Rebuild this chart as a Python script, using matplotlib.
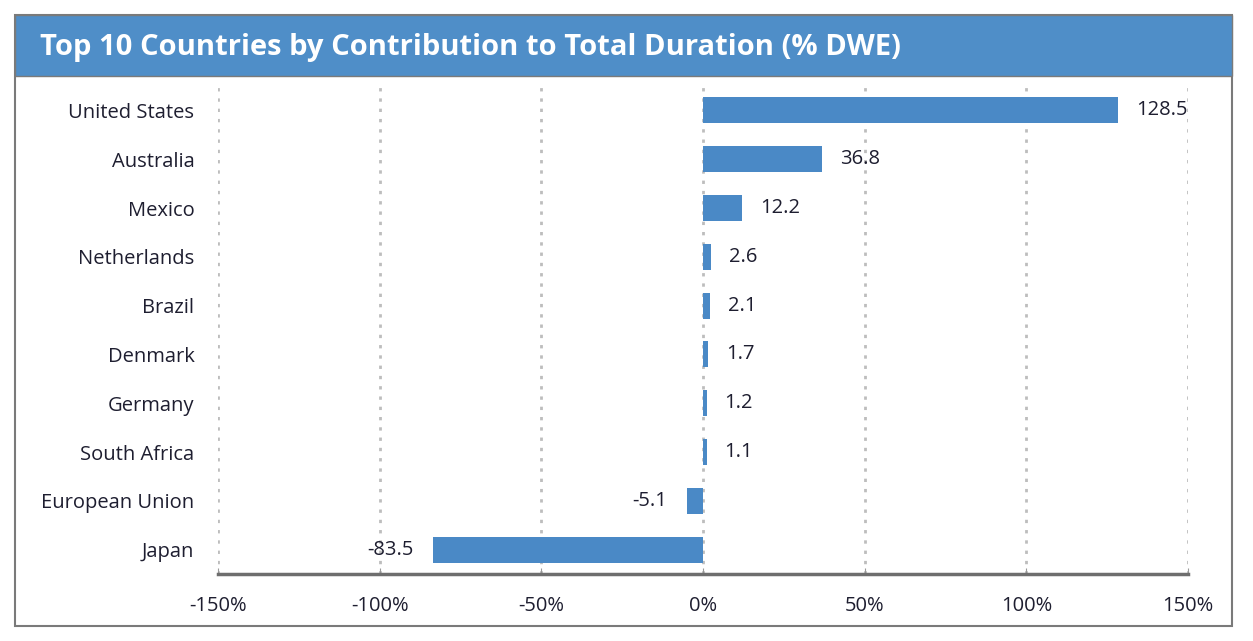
import matplotlib.pyplot as plt
from matplotlib.patches import Rectangle

# Data
countries = ['United States', 'Australia', 'Mexico', 'Netherlands', 'Brazil',
             'Denmark', 'Germany', 'South Africa', 'European Union', 'Japan']
values = [128.5, 36.8, 12.2, 2.6, 2.1, 1.7, 1.2, 1.1, -5.1, -83.5]
x_ticks = [-150, -100, -50, 0, 50, 100, 150]

bar_color = '#4a89c6'
header_color = '#4f8ec8'
text_color = '#1e1e30'

plt.rcParams['font.family'] = ['Open Sans', 'DejaVu Sans']

fig = plt.figure(figsize=(12.53, 6.41), dpi=100)

# Outer frame and title bar
fig.patches.append(Rectangle((15 / 1253, 1 - 626 / 641), 1217 / 1253, 611 / 641,
                             transform=fig.transFigure, fill=False,
                             edgecolor='#7a7a7a', linewidth=1.5))
fig.patches.append(Rectangle((15 / 1253, 1 - 76 / 641), 1217 / 1253, 61 / 641,
                             transform=fig.transFigure, facecolor=header_color,
                             edgecolor='#7a7a7a', linewidth=1.0))
fig.text(40 / 1253, 1 - 47 / 641, 'Top 10 Countries by Contribution to Total Duration (% DWE)',
         color='white', fontsize=21, fontweight='bold', va='center', ha='left')

ax = fig.add_axes([218 / 1253, 1 - 574 / 641, 970 / 1253, 488 / 641])

y = list(range(len(countries)))
ax.barh(y, values, height=0.53, color=bar_color, zorder=3)

for yi, v in zip(y, values):
    if v >= 0:
        ax.text(v + 5.5, yi, f'{v:.1f}', va='center', ha='left', fontsize=14.5, color=text_color)
    else:
        ax.text(v - 6, yi, f'{v:.1f}', va='center', ha='right', fontsize=14.5, color=text_color)

ax.set_xlim(-150, 150)
ax.set_ylim(len(countries) - 0.5, -0.5)
ax.set_yticks(y)
ax.set_yticklabels(countries, fontsize=14.5, color=text_color)
ax.set_xticks(x_ticks)
ax.set_xticklabels([f'{t}%' for t in x_ticks], fontsize=14.5, color=text_color)

ax.grid(axis='x', linestyle=(0, (1.2, 2.5)), color='#bdbdbd', linewidth=2, zorder=0)
ax.grid(axis='y', visible=False)
for side in ['top', 'right', 'left']:
    ax.spines[side].set_visible(False)
ax.spines['bottom'].set_color('#6e6e6e')
ax.spines['bottom'].set_linewidth(2.5)
ax.tick_params(axis='y', length=0, pad=17)
ax.tick_params(axis='x', length=4, direction='in', color='#999999', pad=16)

fig.savefig('out.png', dpi=100)
